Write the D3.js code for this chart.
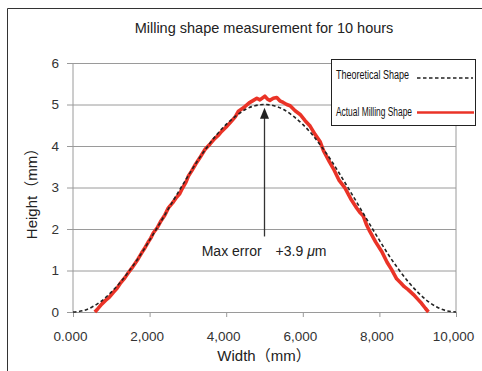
<!DOCTYPE html>
<html><head><meta charset="utf-8">
<script src="https://cdn.jsdelivr.net/npm/d3@7"></script>
<style>
body{margin:0;background:#fff;}
svg{display:block;font-family:"Liberation Sans",Arial,sans-serif;}
</style></head>
<body><svg id="c" width="482" height="371"></svg>
<script>
// ---- data ----
const title = "Milling shape measurement for 10 hours";
const xLabel = "Width（mm）";
const yLabel = "Height（mm）";
const xTickValues = [0, 2000, 4000, 6000, 8000, 10000];
const xTickLabels = ["0.000", "2,000", "4,000", "6,000", "8,000", "10,000"];
const yTickValues = [0, 1, 2, 3, 4, 5, 6];
const seriesNames = ["Theoretical Shape", "Actual Milling Shape"];
// theoretical shape
const theoX = [0,250,500,750,1000,1250,1500,1750,2000,2250,2500,2750,3000,3250,3500,3750,4000,4250,4500,4750,5000,
  5250,5500,5750,6000,6250,6500,6750,7000,7250,7500,7750,8000,8250,8500,8750,9000,9250,9500,9750,10000];
const theoY = [0,0.03,0.12,0.27,0.48,0.73,1.03,1.36,1.73,2.11,2.50,2.89,3.27,3.64,3.97,4.27,4.52,4.72,4.88,4.97,5.00,
  4.97,4.88,4.72,4.52,4.27,3.97,3.64,3.27,2.89,2.50,2.11,1.73,1.36,1.03,0.73,0.48,0.27,0.12,0.03,0];
// actual milling shape
const actX = [570,650,750,850,950,1050,1150,1250,1350,1440,1530,1620,1700,1790,1880,1960,2030,2100,2200,2300,2400,2490,
  2600,2700,2780,2850,2950,3010,3100,3200,3320,3450,3580,3700,3800,3880,4000,4140,4240,4320,4450,4600,4710,4800,4880,
  4950,5010,5080,5140,5230,5320,5400,5490,5580,5670,5800,5930,6060,6190,6320,6450,6540,6620,6700,6800,6950,7100,7250,
  7410,7500,7580,7660,7750,7900,8060,8200,8320,8450,8560,8650,8750,8890,9000,9100,9200,9280];
const actY = [0,0.08,0.19,0.28,0.36,0.47,0.57,0.71,0.82,0.94,1.05,1.17,1.28,1.42,1.55,1.68,1.78,1.91,2.03,2.20,2.34,2.51,
  2.63,2.76,2.84,2.97,3.13,3.27,3.40,3.56,3.73,3.92,4.05,4.18,4.26,4.35,4.46,4.60,4.71,4.84,4.92,5.04,5.10,5.15,5.11,
  5.16,5.20,5.13,5.10,5.15,5.17,5.09,5.05,5.00,4.97,4.85,4.76,4.61,4.48,4.28,4.11,3.89,3.75,3.61,3.45,3.17,2.99,2.73,
  2.50,2.39,2.31,2.11,1.94,1.69,1.46,1.20,1.02,0.80,0.70,0.61,0.54,0.42,0.31,0.21,0.09,0];
// annotation
const annText1 = "Max error", annText2 = "+3.9 ", annUnit = "μm";
const arrowX = 5000, arrowFromY = 1.82, arrowToY = 4.92;
const annLabelX = 3360, annLabelY = 1.36;

// ---- layout ----
const svg = d3.select("#c");
const x = d3.scaleLinear().domain([0, 10000]).range([73, 456]);
const y = d3.scaleLinear().domain([0, 6]).range([312, 63]);

// outer frame (top + left)
svg.append("path").attr("d", "M7.5,371 L7.5,8.5 L482,8.5").attr("fill", "none").attr("stroke", "#333").attr("stroke-width", 1);

// title
svg.append("text").attr("x", 264).attr("y", 33).attr("text-anchor", "middle")
  .attr("font-size", 14.5).attr("fill", "#222").text(title);

// y axis with gridlines
const gy = svg.append("g").attr("transform", "translate(67,0)")
  .call(d3.axisLeft(y).tickValues(yTickValues).tickSizeInner(-(456 - 67)).tickSizeOuter(0).tickPadding(8).tickFormat(d3.format("d")));
gy.select(".domain").remove();
gy.selectAll(".tick line").attr("stroke", "#9a9a9a");
gy.selectAll(".tick text").attr("font-size", 13.5).attr("fill", "#333").attr("font-family", "Liberation Sans, Arial, sans-serif");

// plot left & right borders
svg.append("line").attr("x1", x(0)).attr("x2", x(0)).attr("y1", y(6)).attr("y2", y(0)).attr("stroke", "#9a9a9a");
svg.append("line").attr("x1", x(10000)).attr("x2", x(10000)).attr("y1", y(6)).attr("y2", y(0)).attr("stroke", "#9a9a9a");

// x axis
const gx = svg.append("g").attr("transform", `translate(0,${y(0)})`)
  .call(d3.axisBottom(x).tickValues(xTickValues).tickSizeInner(5).tickSizeOuter(0).tickPadding(14)
    .tickFormat((d, i) => xTickLabels[i]));
gx.select(".domain").attr("stroke", "#9a9a9a");
gx.selectAll(".tick line").attr("stroke", "#9a9a9a");
gx.selectAll(".tick text").attr("font-size", 13.5).attr("fill", "#333").attr("dx", -3)
  .attr("font-family", "Liberation Sans, Arial, sans-serif");

// axis labels
svg.append("text").attr("x", 264).attr("y", 361).attr("text-anchor", "middle").attr("font-size", 15).attr("fill", "#222")
  .attr("font-family", "Liberation Sans, 'Noto Sans CJK JP', sans-serif").text(xLabel);
svg.append("text").attr("transform", "translate(37,190) rotate(-90)").attr("text-anchor", "middle").attr("font-size", 15).attr("fill", "#222")
  .attr("font-family", "Liberation Sans, 'Noto Sans CJK JP', sans-serif").text(yLabel);

// curves
const theo = theoX.map((d, i) => [d, theoY[i]]);
const act = actX.map((d, i) => [d, actY[i]]);
svg.append("path").datum(act).attr("d", d3.line().x(d => x(d[0])).y(d => y(d[1])).curve(d3.curveLinear)).attr("fill", "none")
  .attr("stroke", "#ea3327").attr("stroke-width", 3.6).attr("stroke-linejoin", "round");
svg.append("path").datum(theo).attr("d", d3.line().x(d => x(d[0])).y(d => y(d[1])).curve(d3.curveNatural)).attr("fill", "none")
  .attr("stroke", "#222").attr("stroke-width", 1.6).attr("stroke-dasharray", "3.5,2.5");

// annotation arrow
const ax = x(arrowX), ay1 = y(arrowFromY), ay2 = y(arrowToY);
svg.append("line").attr("x1", ax).attr("x2", ax).attr("y1", ay1).attr("y2", ay2 + 8).attr("stroke", "#333").attr("stroke-width", 1.3);
svg.append("path").attr("d", `M${ax},${ay2} L${ax - 4.5},${ay2 + 11} L${ax + 4.5},${ay2 + 11} Z`).attr("fill", "#222");
const at = svg.append("text").attr("x", x(annLabelX)).attr("y", y(annLabelY)).attr("font-size", 14).attr("fill", "#222");
at.append("tspan").text(annText1);
at.append("tspan").attr("dx", 14).text(annText2);
at.append("tspan").attr("font-style", "italic").text(annUnit.charAt(0));
at.append("tspan").text(annUnit.slice(1));

// legend
const lg = svg.append("g");
lg.append("rect").attr("x", 331.5).attr("y", 59.5).attr("width", 144).attr("height", 66)
  .attr("fill", "#fff").attr("stroke", "#222").attr("stroke-width", 1);
lg.append("text").attr("x", 336).attr("y", 79).attr("font-size", 12.5).attr("fill", "#111")
  .attr("font-family", "'Liberation Sans Narrow', 'Liberation Sans', sans-serif")
  .attr("textLength", 73).attr("lengthAdjust", "spacingAndGlyphs").text(seriesNames[0]);
lg.append("text").attr("x", 336).attr("y", 116).attr("font-size", 12.5).attr("fill", "#111")
  .attr("font-family", "'Liberation Sans Narrow', 'Liberation Sans', sans-serif")
  .attr("textLength", 76).attr("lengthAdjust", "spacingAndGlyphs").text(seriesNames[1]);
lg.append("line").attr("x1", 417).attr("x2", 473).attr("y1", 78).attr("y2", 78)
  .attr("stroke", "#222").attr("stroke-width", 1.6).attr("stroke-dasharray", "3.5,2.5");
lg.append("line").attr("x1", 417).attr("x2", 474).attr("y1", 112.5).attr("y2", 112.5)
  .attr("stroke", "#ea3327").attr("stroke-width", 2.5);
</script></body></html>
